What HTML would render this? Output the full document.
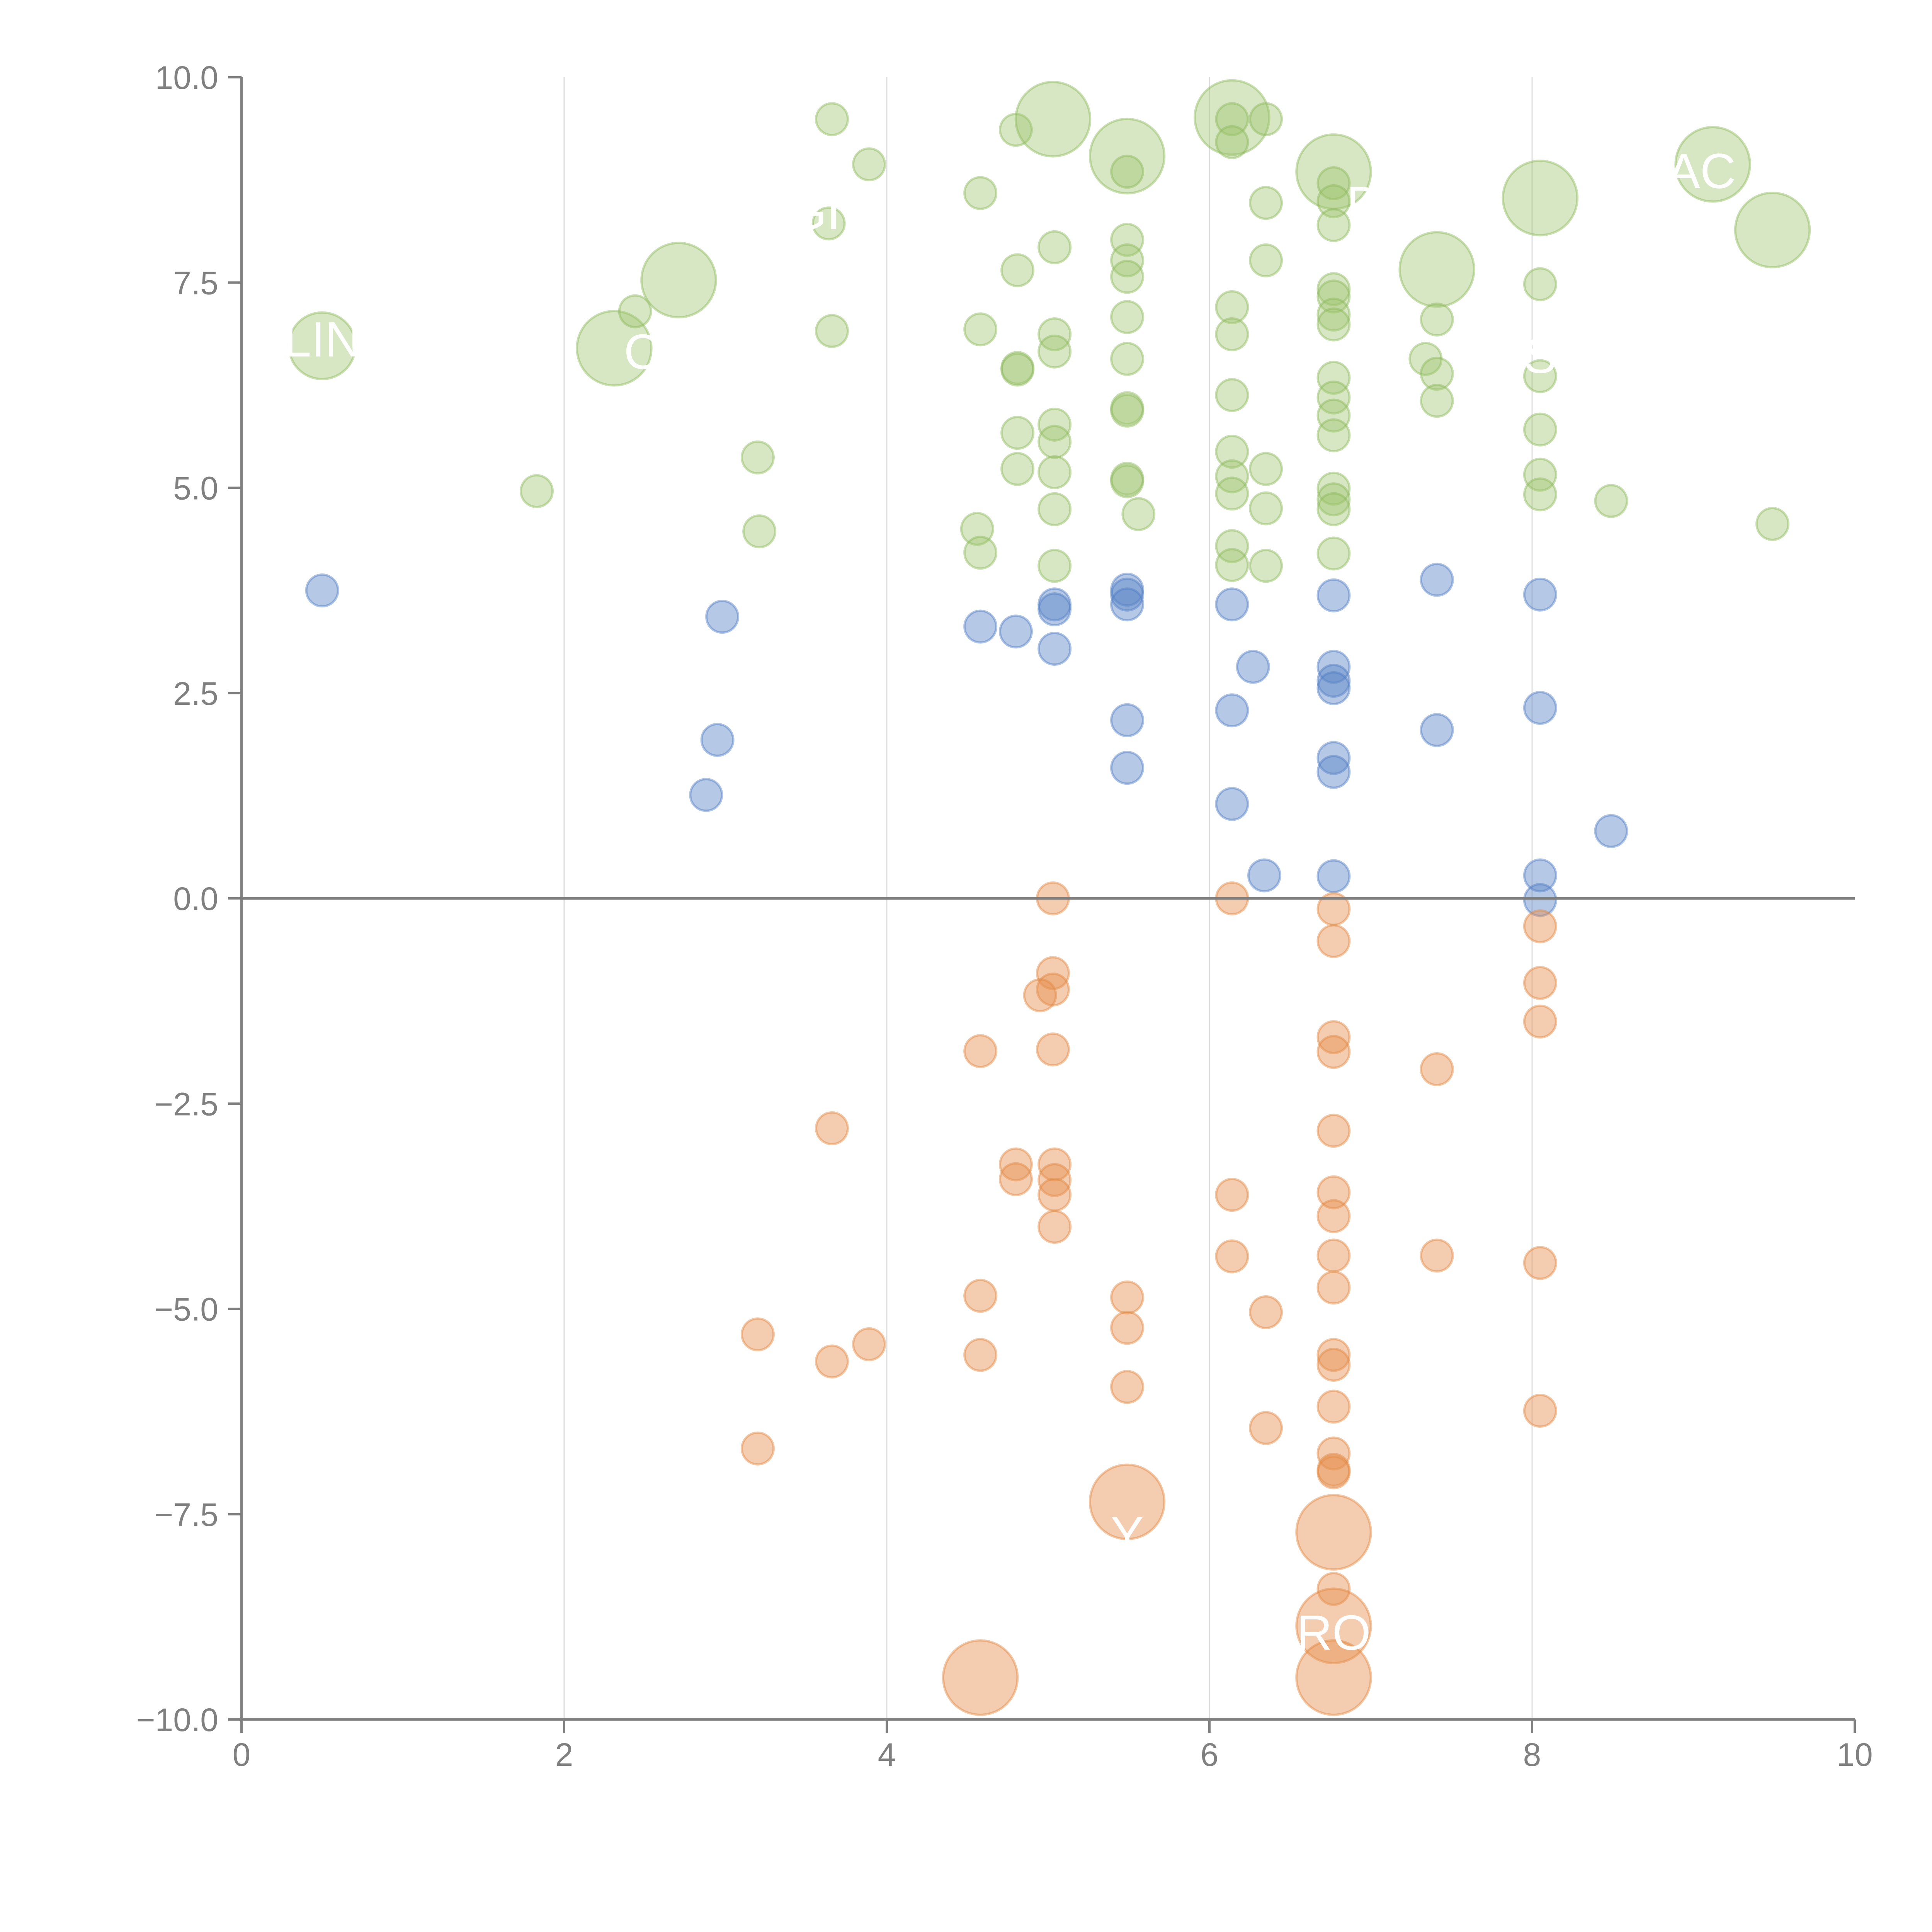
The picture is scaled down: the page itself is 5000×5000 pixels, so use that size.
<!DOCTYPE html>
<html><head><meta charset="utf-8"><style>html,body{margin:0;padding:0;background:#fff}svg{display:block}</style></head>
<body>
<svg id="chart" width="5000" height="5000" viewBox="0 0 5000 5000" xmlns="http://www.w3.org/2000/svg" font-family="Liberation Sans, sans-serif">
<g id="grid"></g>
<g id="marks"></g>
<g id="labels"></g>
<g id="axes"></g>
</svg>
<script>
const xTicks = [0, 2, 4, 6, 8, 10];
const yTicks = [-10, -7.5, -5, -2.5, 0, 2.5, 5, 7.5, 10];
const yTickLabels = ["\u221210.0","\u22127.5","\u22125.0","\u22122.5","0.0","2.5","5.0","7.5","10.0"];

const greenX = [0.5,1.83,2.31,2.44,2.71,3.2,3.21,3.64,3.66,3.66,3.89,4.58,4.58,4.56,4.58,4.8,4.81,4.81,4.81,4.81,4.81,5.03,5.04,5.04,5.04,5.04,5.04,5.04,5.04,5.04,5.49,5.49,5.49,5.49,5.49,5.49,5.49,5.49,5.49,5.49,5.49,5.56,6.14,6.14,6.14,6.14,6.14,6.14,6.14,6.14,6.14,6.14,6.14,6.35,6.35,6.35,6.35,6.35,6.35,6.77,6.77,6.77,6.77,6.77,6.77,6.77,6.77,6.77,6.77,6.77,6.77,6.77,6.77,6.77,6.77,7.41,7.41,7.34,7.41,7.41,8.05,8.05,8.05,8.05,8.05,8.05,8.49,9.12,9.49,9.49];
const greenY = [6.73,4.96,6.70,7.15,7.53,5.37,4.47,8.22,9.49,6.91,8.94,8.59,6.93,4.50,4.21,9.36,7.65,6.46,6.44,5.67,5.23,9.49,7.93,6.87,6.66,5.77,5.56,5.19,4.74,4.05,9.04,8.85,8.02,7.77,7.57,7.08,6.57,5.97,5.94,5.11,5.08,4.68,9.51,9.49,9.21,7.20,6.87,6.13,5.44,5.14,4.93,4.29,4.06,9.49,8.47,7.77,5.23,4.75,4.05,8.85,8.71,8.49,8.20,7.42,7.33,7.11,6.99,6.34,6.10,5.88,5.64,4.99,4.86,4.74,4.20,7.66,7.05,6.57,6.39,6.06,8.53,7.48,6.36,5.71,5.16,4.92,4.84,8.94,8.14,4.56];
const greenS = [4,1,5,1,5,1,1,1,1,1,1,1,1,1,1,1,1,1,1,1,1,5,1,1,1,1,1,1,1,1,5,1,1,1,1,1,1,1,1,1,1,1,5,1,1,1,1,1,1,1,1,1,1,1,1,1,1,1,1,5,1,1,1,1,1,1,1,1,1,1,1,1,1,1,1,5,1,1,1,1,5,1,1,1,1,1,1,5,5,1];

const blueX = [0.5,2.98,2.95,2.88,4.58,4.8,5.04,5.04,5.04,5.49,5.49,5.49,5.49,5.49,6.14,6.14,6.14,6.27,6.34,6.77,6.77,6.77,6.77,6.77,6.77,6.77,7.41,7.41,8.05,8.05,8.05,8.05,8.49];
const blueY = [3.75,3.43,1.93,1.26,3.31,3.25,3.58,3.52,3.04,3.76,3.70,3.58,2.17,1.59,3.58,2.29,1.15,2.82,0.28,3.69,2.82,2.65,2.56,1.71,1.54,0.27,3.88,2.05,3.70,2.32,0.28,-0.02,0.82];
const blueS = blueX.map(() => 1);

const orangeX = [5.03,5.03,5.03,4.95,5.03,4.58,3.66,4.8,4.8,5.04,5.04,5.04,5.04,4.58,4.58,3.2,3.66,3.89,3.2,5.49,5.49,5.49,5.49,4.58,6.14,6.14,6.14,6.35,6.35,6.77,6.77,6.77,6.77,6.77,6.77,6.77,6.77,6.77,6.77,6.77,6.77,6.77,6.77,6.77,6.77,6.77,6.77,6.77,7.41,7.41,8.05,8.05,8.05,8.05,8.05];
const orangeY = [0,-0.91,-1.11,-1.18,-1.84,-1.86,-2.8,-3.24,-3.42,-3.24,-3.43,-3.61,-4.0,-4.84,-5.56,-5.31,-5.64,-5.43,-6.7,-4.86,-5.23,-5.95,-7.35,-9.49,0,-3.61,-4.36,-5.04,-6.45,-0.13,-0.52,-1.69,-1.87,-2.83,-3.58,-3.87,-4.35,-4.74,-5.56,-5.68,-6.19,-6.76,-6.96,-6.99,-7.72,-8.41,-8.86,-9.49,-2.08,-4.35,-0.34,-1.03,-1.5,-4.44,-6.24];
const orangeS = [1,1,1,1,1,1,1,1,1,1,1,1,1,1,1,1,1,1,1,1,1,1,5,5,1,1,1,1,1,1,1,1,1,1,1,1,1,1,1,1,1,1,1,1,5,1,5,5,1,1,1,1,1,1,1];

const labelText = ["LIN","CO","GI","D","AC","S","Y","RO"];
const labelX = [0.5,2.6,3.55,6.96,9.05,8.05,5.49,6.77];
const labelY = [6.6,6.45,8.15,8.25,8.65,6.4,-7.95,-9.15];

const NS = "http://www.w3.org/2000/svg";
const X0 = 625, X1 = 4800, Y0 = 4450, Y1 = 200;
const sx = v => X0 + (v - 0) / 10 * (X1 - X0);
const sy = v => Y0 - (v + 10) / 20 * (Y0 - Y1);
function mk(tag, attrs, parent) {
  const e = document.createElementNS(NS, tag);
  for (const k in attrs) e.setAttribute(k, attrs[k]);
  parent.appendChild(e);
  return e;
}
const grid = document.getElementById('grid'), marks = document.getElementById('marks'),
      labels = document.getElementById('labels'), axes = document.getElementById('axes');

xTicks.slice(1, -1).forEach(t => {
  const l = mk('line', {x1: sx(t), x2: sx(t), y1: Y1, y2: Y0, stroke: '#dcdcdc', 'stroke-width': 3}, grid);
  
  
});

function series(xs, ys, ss, fill, stroke, name) {
  xs.forEach((x, i) => {
    const c = mk('circle', {cx: sx(x), cy: sy(ys[i]), r: 41 * Math.sqrt(ss[i]) * (ss[i] > 1 ? 1.05 : 1),
      fill: fill, stroke: stroke, 'stroke-width': 6}, marks);
    
    
  });
}
series(greenX, greenY, greenS, 'rgba(155,196,106,0.4)', 'rgba(140,185,90,0.45)', 'positive-bubble');
series(blueX, blueY, blueS, 'rgba(91,134,197,0.45)', 'rgba(80,125,195,0.45)', 'neutral-bubble');
series(orangeX, orangeY, orangeS, 'rgba(230,145,80,0.45)', 'rgba(225,135,65,0.45)', 'negative-bubble');

// zero line
const z = mk('line', {x1: X0, x2: X1, y1: sy(0), y2: sy(0), stroke: '#808080', 'stroke-width': 7}, axes);



labelText.forEach((t, i) => {
  const tx = mk('text', {x: sx(labelX[i]), y: sy(labelY[i]), fill: '#ffffff', 'font-size': 128, 'text-anchor': 'middle'}, labels);
  tx.textContent = t;
  
  
});

// axes spines
const ly = mk('line', {x1: X0, x2: X0, y1: Y1, y2: Y0, stroke: '#808080', 'stroke-width': 6}, axes);


const lx = mk('line', {x1: X0, x2: X1, y1: Y0, y2: Y0, stroke: '#808080', 'stroke-width': 6}, axes);



yTicks.forEach((t, i) => {
  const tk = mk('line', {x1: X0 - 35, x2: X0, y1: sy(t), y2: sy(t), stroke: '#808080', 'stroke-width': 6}, axes);
  
  
  const tl = mk('text', {x: X0 - 60, y: sy(t) + 30, fill: '#808080', 'font-size': 84, 'text-anchor': 'end'}, axes);
  tl.textContent = yTickLabels[i];
  
  
});
xTicks.forEach(t => {
  const tk = mk('line', {x1: sx(t), x2: sx(t), y1: Y0, y2: Y0 + 35, stroke: '#808080', 'stroke-width': 6}, axes);
  
  
  const tl = mk('text', {x: sx(t), y: Y0 + 120, fill: '#808080', 'font-size': 84, 'text-anchor': 'middle'}, axes);
  tl.textContent = String(t);
  
  
});
</script>
</body></html>
